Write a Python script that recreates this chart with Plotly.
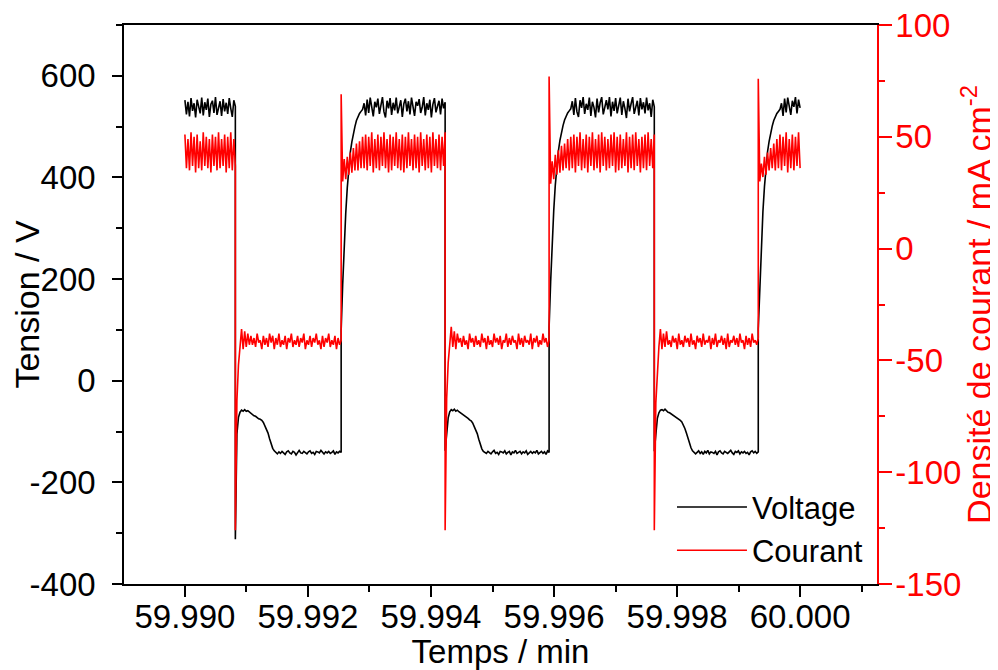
import numpy as np
import plotly.graph_objects as go

# ---------------- data ----------------
# transition times (min): start, fall1, rise1, fall2, rise2, fall3, rise3, end
edge_times = [59.99000, 59.99082, 59.99254, 59.99423, 59.99592, 59.99763, 59.99932, 60.00000]

# Phase 0 : high state
volt_h0 = [552, 524, 549, 520, 556, 531, 546, 518, 553, 537, 526, 557, 522, 548, 533, 555, 519, 544, 551, 527,
           558, 523, 541, 550, 521, 554, 530, 547, 525, 556, 536, 519, 552, 540]
curr_h0 = [51, 36, 49, 35, 52, 37, 50, 34, 51, 36, 48, 35, 52, 37, 50, 36, 49, 34, 51, 37,
           50, 35, 52, 36, 49, 37, 51, 34, 50, 36, 52, 35, 49, 37]

# Phase 1 : low state
volt_l1 = [-312, -105, -72, -62, -58, -60, -57, -60, -59, -62, -64, -66, -69, -70, -73, -75, -76, -78, -82, -88,
           -95, -103, -114, -125, -133, -138, -142, -144,
           -140, -143, -139, -142, -145, -140, -138, -142, -144, -139, -141, -146, -140, -137, -142, -143, -139, -141,
           -144, -140, -138, -143, -141, -145, -139, -140, -142, -137, -141, -144, -140, -142, -139, -143, -141, -138,
           -145, -140, -142, -139, -141]
curr_l1 = [-126, -68, -52, -44, -36, -45, -37, -44, -38, -43,
           -39, -43, -40, -44, -38, -42, -41, -45, -39, -43, -40, -44, -38, -42, -39, -45, -40, -43, -38, -44,
           -41, -43, -39, -45, -40, -42, -38, -44, -41, -43, -39, -44, -40, -42, -38, -45, -41, -43, -39, -44,
           -40, -42, -38, -43, -41, -45, -39, -44, -40, -42, -38, -44, -41, -43, -39, -45, -40, -43, -41]

# Phase 2 : high state
volt_h2 = [100, 190, 270, 330, 380, 420, 450, 470, 488, 500, 512, 520, 526, 530, 534,
           546, 522, 553, 527, 557, 533, 520, 549, 538, 555, 525, 542, 558, 529, 518, 551, 536, 556, 523, 547,
           532, 557, 526, 539, 552, 519, 545, 555, 530, 550, 524, 557, 535, 521, 549, 541, 554, 527, 538, 558,
           522, 546, 533, 553, 518, 544, 556, 528, 540, 551, 524, 555, 536, 548]
curr_h2 = [69, 30, 40, 31, 41, 33, 43, 34, 45, 35, 47, 35, 48, 36, 50,
           36, 51, 35, 50, 37, 52, 34, 49, 36, 51, 35, 50, 37, 52, 36, 49, 34, 51, 35, 50,
           37, 52, 36, 49, 35, 51, 34, 50, 36, 52, 37, 49, 35, 51, 36, 50, 34, 52, 37, 49,
           35, 51, 36, 50, 34, 52, 37, 49, 36, 51, 35, 50, 37, 52]

# Phase 3 : low state
volt_l3 = [-138, -104, -73, -61, -57, -59, -56, -60, -58, -61, -63, -66, -68, -70, -72, -74, -77, -79, -83, -89,
           -96, -104, -115, -126, -134, -139, -141, -143,
           -139, -142, -144, -140, -137, -143, -141, -145, -139, -140, -142, -138, -144, -141, -139, -146, -140, -142,
           -137, -143, -141, -139, -144, -140, -142, -138, -145, -141, -139, -143, -140, -142, -137, -144, -141, -139,
           -143, -140, -145, -138, -141]
curr_l3 = [-126, -67, -51, -43, -35, -44, -37, -45, -38, -42,
           -40, -44, -39, -43, -41, -45, -38, -42, -40, -44, -39, -43, -41, -44, -38, -42, -40, -45, -39, -43,
           -41, -44, -38, -42, -40, -43, -39, -45, -41, -42, -38, -44, -40, -43, -39, -42, -41, -45, -38, -43,
           -40, -44, -39, -42, -41, -43, -38, -45, -40, -42, -39, -44, -41, -43, -38, -42, -40, -44, -41]

# Phase 4 : high state
volt_h4 = [105, 195, 275, 335, 385, 422, 452, 473, 489, 502, 513, 521, 527, 531, 535,
           550, 523, 556, 529, 519, 552, 537, 558, 525, 545, 533, 557, 521, 549, 538, 518, 555, 528, 547, 558,
           524, 541, 552, 534, 558, 520, 549, 531, 556, 526, 542, 557, 523, 550, 536, 517, 555, 530, 545, 558,
           525, 538, 551, 522, 556, 534, 548, 526, 557, 532, 546, 519, 553, 539]
curr_h4 = [77, 29, 39, 31, 42, 33, 44, 34, 46, 35, 47, 36, 49, 35, 50,
           36, 51, 34, 50, 37, 52, 35, 49, 36, 51, 34, 50, 37, 52, 35, 49, 36, 51, 34, 52,
           37, 50, 35, 49, 36, 51, 37, 52, 34, 50, 35, 51, 36, 49, 37, 52, 34, 50, 36, 51,
           35, 52, 37, 49, 34, 50, 36, 51, 35, 52, 37, 49, 36, 51]

# Phase 5 : low state
volt_l5 = [-139, -106, -74, -63, -58, -57, -59, -56, -60, -62, -63, -65, -67, -69, -71, -73, -76, -78, -81, -87,
           -94, -103, -113, -124, -132, -138, -142, -144,
           -141, -138, -143, -140, -145, -139, -142, -137, -144, -140, -141, -143, -139, -146, -140, -138, -142, -144,
           -139, -141, -143, -140, -137, -142, -145, -139, -141, -138, -144, -140, -142, -139, -143, -141, -146, -140,
           -138, -142, -139, -143, -140]
curr_l5 = [-126, -69, -53, -44, -36, -45, -38, -44, -37, -43,
           -41, -44, -39, -42, -40, -45, -38, -43, -41, -44, -39, -42, -40, -44, -38, -43, -41, -45, -39, -42,
           -40, -44, -38, -43, -41, -42, -39, -45, -40, -43, -38, -44, -41, -42, -39, -43, -40, -45, -38, -44,
           -41, -42, -39, -43, -40, -44, -38, -42, -41, -45, -39, -43, -40, -44, -38, -42, -41, -43, -40]

# Phase 6 : high state (end)
volt_h6 = [102, 192, 272, 333, 382, 421, 451, 471, 488, 501, 512, 520, 526, 530, 534,
           546, 521, 555, 528, 557, 535, 523, 551, 539, 558, 526, 553, 537]
curr_h6 = [76, 30, 38, 32, 41, 33, 43, 35, 45, 36, 47, 35, 49, 36,
           51, 35, 50, 37, 52, 34, 49, 36, 51, 35, 50, 37, 52, 36]

volt_phases = [volt_h0, volt_l1, volt_h2, volt_l3, volt_h4, volt_l5, volt_h6]
curr_phases = [curr_h0, curr_l1, curr_h2, curr_l3, curr_h4, curr_l5, curr_h6]

x_tick_vals = [59.990, 59.992, 59.994, 59.996, 59.998, 60.000]
x_tick_text = ["59.990", "59.992", "59.994", "59.996", "59.998", "60.000"]
x_minor_vals = [59.989, 59.991, 59.993, 59.995, 59.997, 59.999, 60.001]
y1_tick_vals = [-400, -200, 0, 200, 400, 600]
y1_tick_text = ["-400", "-200", "0", "200", "400", "600"]
y1_minor_vals = [-300, -100, 100, 300, 500, 700]
y2_tick_vals = [-150, -100, -50, 0, 50, 100]
y2_tick_text = ["-150", "-100", "-50", "0", "50", "100"]
y2_minor_vals = [-125, -75, -25, 25, 75]


def build(phases):
    ts, vs = [], []
    for i, vals in enumerate(phases):
        ts.append(np.linspace(edge_times[i], edge_times[i + 1], len(vals)))
        vs.append(np.asarray(vals, dtype=float))
    return np.concatenate(ts), np.concatenate(vs)


t_v, v = build(volt_phases)
t_c, c = build(curr_phases)

FONT = "Liberation Sans, Arial, sans-serif"
RED = "#ff0000"
TICK_FS = 33
TITLE_FS = 34

fig = go.Figure()
fig.add_trace(go.Scatter(x=t_v, y=v, mode="lines", name="Voltage",
                         line=dict(color="#000000", width=1.6), yaxis="y"))
fig.add_trace(go.Scatter(x=t_c, y=c, mode="lines", name="Courant",
                         line=dict(color=RED, width=1.6), yaxis="y2"))

# page body has an 8px margin: figure is 8px smaller and margins shifted
fig.update_layout(
    width=990, height=662,
    margin=dict(l=116, r=121, t=17, b=86, autoexpand=False),
    paper_bgcolor="white", plot_bgcolor="white",
    font=dict(family=FONT, size=TICK_FS, color="#000000"),
    showlegend=True,
    legend=dict(x=0.988, y=0.012, xanchor="right", yanchor="bottom",
                bgcolor="rgba(0,0,0,0)", borderwidth=0,
                font=dict(family=FONT, size=31, color="#000000"),
                itemwidth=70, tracegroupgap=0),
    xaxis=dict(
        range=[59.98901, 60.00125],
        tickmode="array", tickvals=x_tick_vals, ticktext=x_tick_text,
        ticks="outside", ticklen=11, tickwidth=1.5, tickcolor="#000000",
        ticklabelstandoff=-8,
        showline=True, linecolor="#000000", linewidth=1.5, mirror=True,
        showgrid=False, zeroline=False,
        minor=dict(tickmode="array", tickvals=x_minor_vals, ticks="outside", ticklen=6,
                   tickwidth=1.5, tickcolor="#000000", showgrid=False),
        tickfont=dict(family=FONT, size=TICK_FS, color="#000000"),
        title=dict(text="Temps / min", font=dict(family=FONT, size=33, color="#000000"), standoff=2),
    ),
    yaxis=dict(
        range=[-400, 700],
        tickmode="array", tickvals=y1_tick_vals, ticktext=y1_tick_text,
        ticks="outside", ticklen=10, tickwidth=1.5, tickcolor="#000000",
        ticklabelstandoff=10, ticklabeloverflow="allow",
        showline=True, linecolor="#000000", linewidth=1.5, mirror=False,
        showgrid=False, zeroline=False,
        minor=dict(tickmode="array", tickvals=y1_minor_vals, ticks="outside", ticklen=6,
                   tickwidth=1.5, tickcolor="#000000", showgrid=False),
        tickfont=dict(family=FONT, size=TICK_FS, color="#000000"),
        title=dict(text="Tension / V", font=dict(family=FONT, size=TITLE_FS, color="#000000"), standoff=0),
    ),
    yaxis2=dict(
        range=[-150, 100], overlaying="y", side="right",
        tickmode="array", tickvals=y2_tick_vals, ticktext=y2_tick_text,
        ticks="outside", ticklen=13, tickwidth=1.5, tickcolor=RED,
        ticklabelstandoff=-3, ticklabeloverflow="allow",
        showline=True, linecolor=RED, linewidth=1.5,
        showgrid=False, zeroline=False,
        minor=dict(tickmode="array", tickvals=y2_minor_vals, ticks="outside", ticklen=6,
                   tickwidth=1.5, tickcolor=RED, showgrid=False),
        tickfont=dict(family=FONT, size=TICK_FS, color=RED),
        title=dict(text="Densité de courant / mA cm<sup>-2</sup>",
                   font=dict(family=FONT, size=TITLE_FS, color=RED), standoff=0),
    ),
)

fig.write_html("out.html")
